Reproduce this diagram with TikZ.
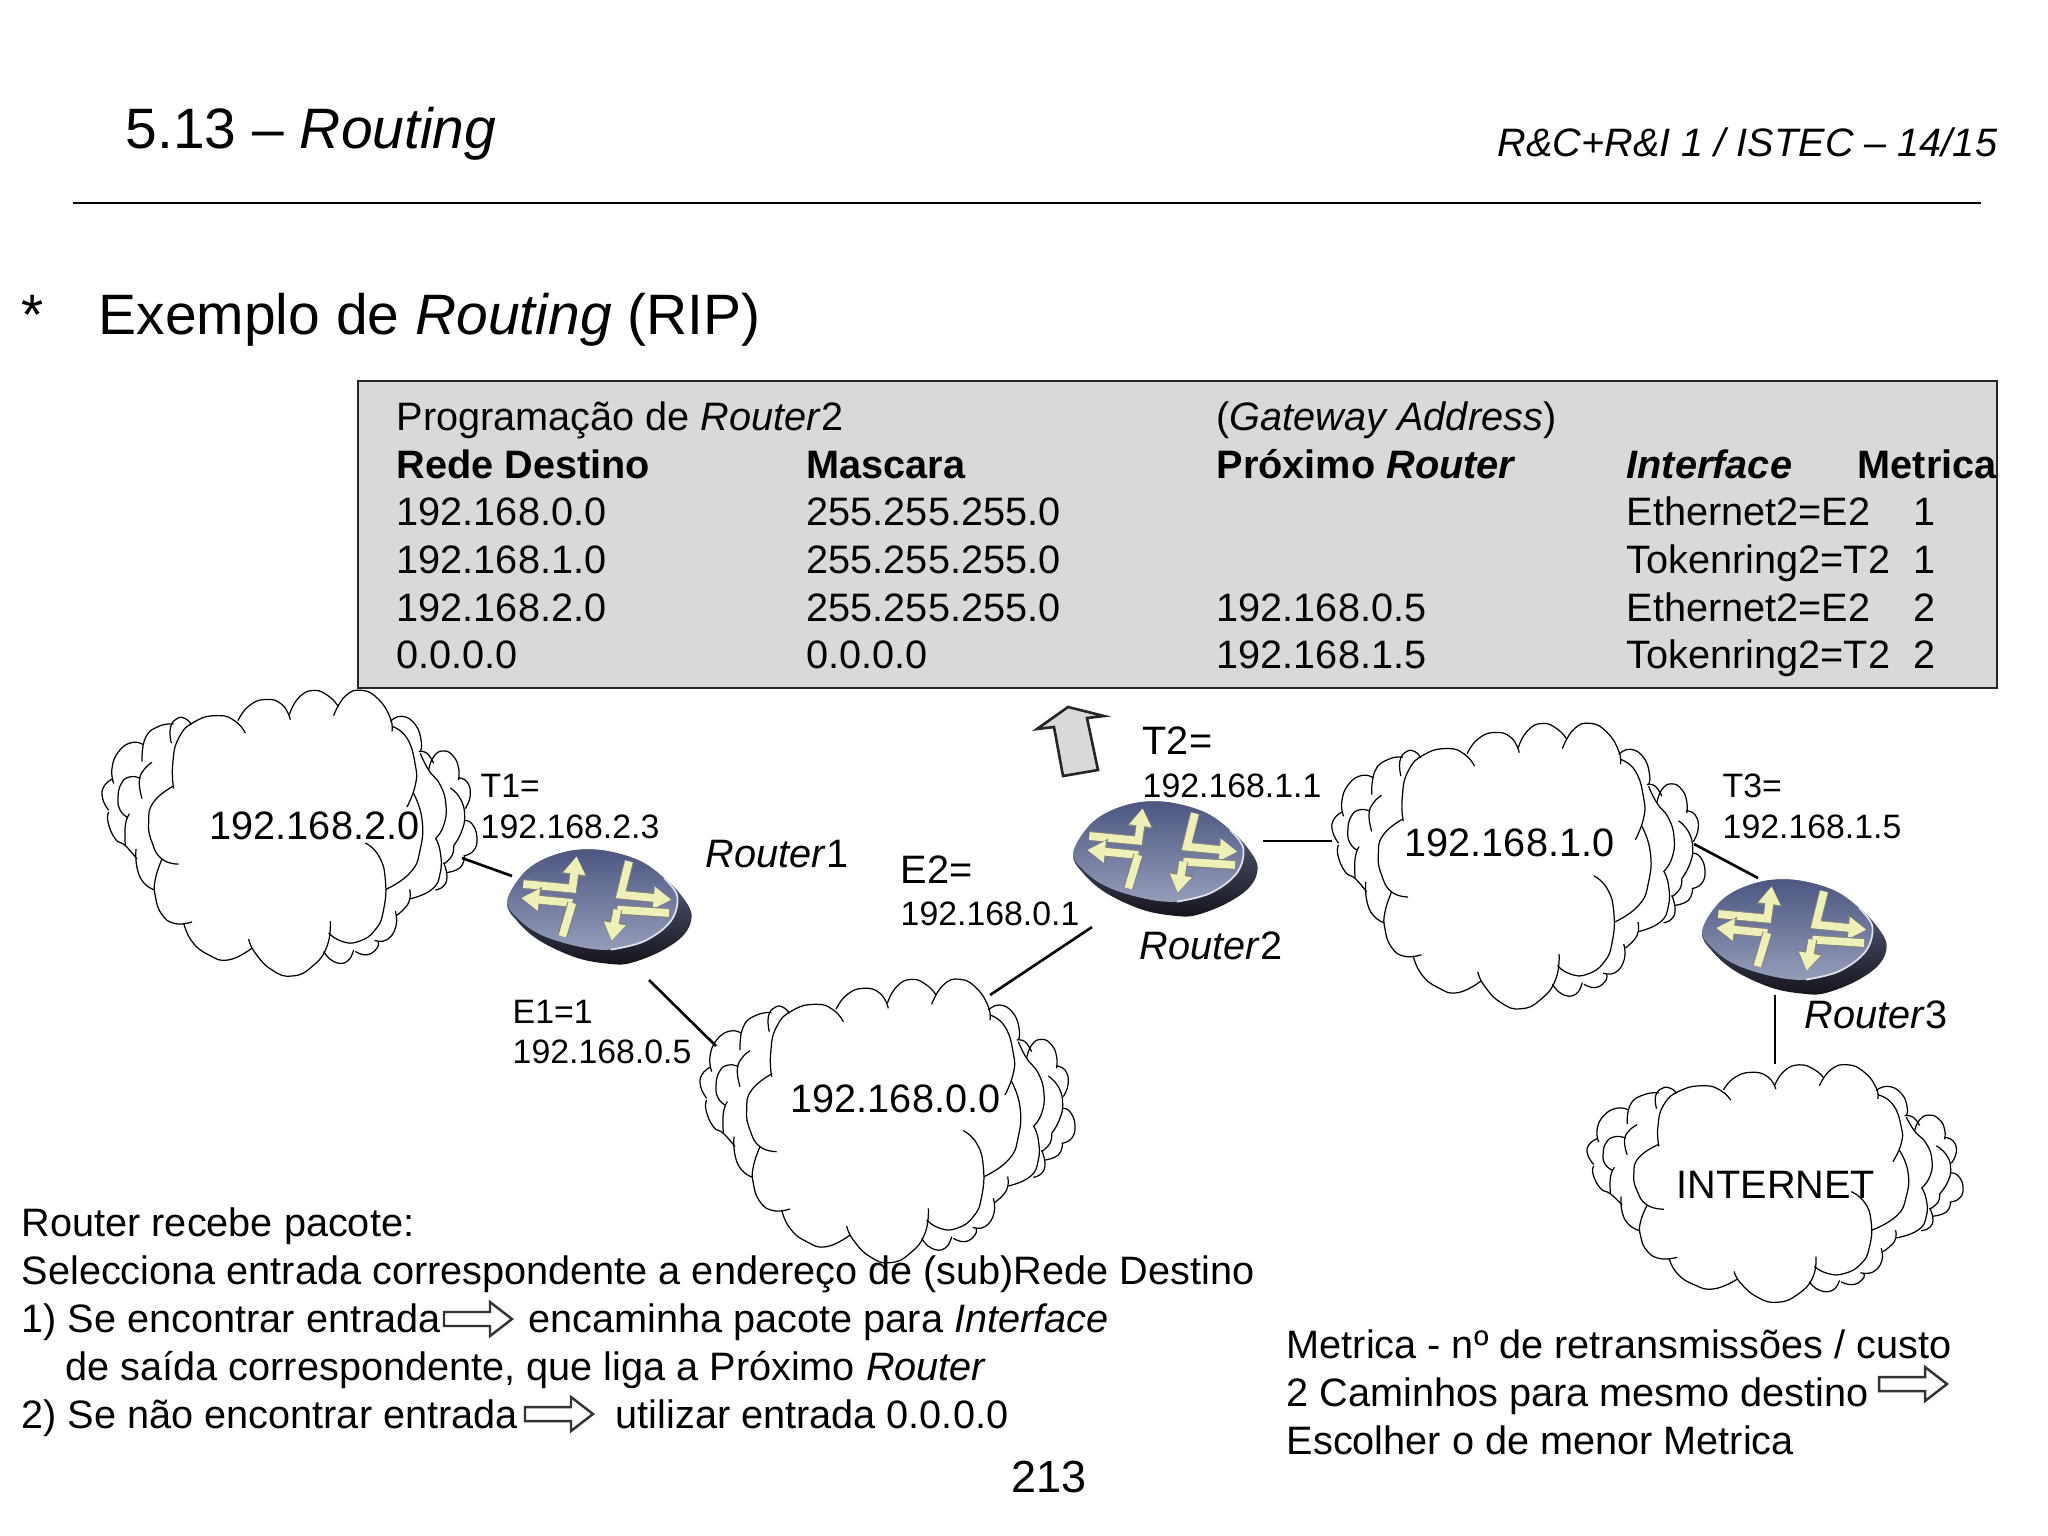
\documentclass[tikz,border=0pt]{standalone}
\usepackage{fontspec}
\setmainfont{Liberation Sans}
\usetikzlibrary{arrows.meta}
\newcommand\carc[1]{\draw[cloudline] plot[smooth,tension=.85] coordinates {#1};}
\newcommand\rarrow[1]{\draw[arrowshadow] #1;\draw[arrowlight] #1;}
\tikzset{
  cloudline/.style={draw=black,line width=.35pt},
  conn/.style={draw=black,line width=.75pt},
  arrowshadow/.style={draw=black!50,line width=2.8pt,-{Triangle[width=7pt,length=5.5pt]}},
  arrowlight/.style={draw=routeryellow,line width=2.2pt,-{Triangle[width=6pt,length=5pt]}},
  tx/.style={anchor=base west,inner sep=0pt,font=\fontsize{11.28}{13}\selectfont},
  sm/.style={anchor=base west,inner sep=0pt,font=\fontsize{9.62}{11}\selectfont},
  bigt/.style={anchor=base west,inner sep=0pt,font=\fontsize{16.2}{19}\selectfont},
  cloudpic/.pic={
    \carc{(275,320)(272,250)(290,170)(340,120)(410,103)(460,120)(490,155)}
    \carc{(468,118)(500,75)(550,55)(600,70)(625,115)}
    \carc{(622,100)(650,50)(695,28)(740,45)(768,75)}
    \carc{(755,103)(790,45)(840,28)(890,55)(925,110)(930,150)}
    \carc{(930,135)(975,170)(1000,250)(1000,310)(975,375)}
    \carc{(995,335)(1020,410)(1015,500)(985,570)(912,620)}
    \carc{(850,482)(890,520)(910,590)(905,680)(880,740)(830,775)(780,775)(740,750)}
    \carc{(745,715)(735,790)(690,850)(630,878)(570,860)(520,810)(500,768)}
    \carc{(510,795)(440,830)(380,815)(330,775)(305,720)}
    \carc{(330,717)(280,722)(240,695)(220,640)(220,590)(240,530)}
    \carc{(290,545)(240,530)(210,480)(200,420)(215,360)(275,312)}
    \carc{(218,622)(185,600)(165,555)(162,500)}
    \carc{(165,530)(130,490)(100,470)(78,420)(80,390)}
    \carc{(80,385)(62,350)(65,315)(90,292)}
    \carc{(95,305)(90,260)(110,210)(150,183)(185,190)}
    \carc{(180,240)(190,170)(230,135)(275,128)}
    \carc{(268,185)(265,140)(285,112)(310,112)(328,130)}
    \carc{(210,242)(185,265)(172,300)(180,350)}
    \carc{(175,290)(145,285)(118,305)(108,350)(115,385)(135,405)}
    \carc{(142,395)(130,430)(130,490)}
    \carc{(925,120)(960,105)(1000,130)(1018,180)(1015,210)}
    \carc{(1010,210)(1035,215)(1055,245)}
    \carc{(1040,265)(1055,225)(1085,208)(1115,225)(1130,260)(1130,295)}
    \carc{(1128,288)(1155,300)(1165,340)(1150,380)}
    \carc{(1105,318)(1135,350)(1148,400)(1138,450)(1115,490)}
    \carc{(1015,215)(1040,265)(1075,310)(1092,370)(1085,430)(1060,470)}
    \carc{(1148,415)(1170,425)(1185,465)(1175,505)(1145,520)}
    \carc{(1148,520)(1135,555)(1095,570)}
    \carc{(1062,470)(1075,510)(1075,570)(1050,620)(985,648)}
    \carc{(1085,540)(1095,580)(1085,610)(1060,622)}
    \carc{(1115,490)(1110,520)(1085,545)}
    \carc{(983,620)(980,660)(945,697)}
    \carc{(940,685)(942,730)(915,770)(878,772)}
    \carc{(888,775)(885,795)(855,815)(820,805)}
    \carc{(815,800)(795,835)(755,835)(725,805)}
  },
  routerpic/.pic={
    \path[top color=routerdark,bottom color=routerblack] plot[smooth cycle,tension=.6] coordinates {(130,490)(190,395)(290,345)(400,335)(520,365)(600,420)(650,470)(683,530)(660,590)(590,640)(500,675)(440,678)(340,660)(230,610)(160,550)};
    \path[top color=routertop,bottom color=routerbot] plot[smooth cycle,tension=.6] coordinates {(130,485)(190,395)(290,345)(400,335)(520,365)(600,420)(640,475)(620,550)(540,610)(440,635)(340,625)(230,590)(160,540)};
    \path[draw=white!70!routerbot,line width=.5pt] plot[smooth,tension=.6] coordinates {(600,420)(640,475)(620,550)(540,610)(440,635)};
    \rarrow{(178,438)--(325,452)--(338,355)}
    \rarrow{(325,495)--(172,480)}
    \draw[arrowshadow,-] (325,495)--(295,595);
    \draw[arrowlight,-] (325,495)--(295,595);
    \rarrow{(495,370)--(470,470)--(622,485)}
    \draw[arrowshadow,-] (615,525)--(460,515);
    \draw[arrowlight,-] (615,525)--(460,515);
    \rarrow{(460,515)--(443,608)}
  },
  blockpic/.pic={
    \draw[fill=white,draw=black!80,line width=.7pt] (0,-7)--(46,-7)--(46,-17)--(68,0)--(46,17)--(46,7)--(0,7)--cycle;
  }
}
\definecolor{routerdark}{HTML}{667090}
\definecolor{routerblack}{HTML}{14141C}
\definecolor{routertop}{HTML}{4C5680}
\definecolor{routerbot}{HTML}{959DBA}
\definecolor{routeryellow}{HTML}{EFEFB8}
\definecolor{panelgray}{HTML}{D9D9D9}
\begin{document}
\begin{tikzpicture}[x=0.01cm,y=-0.01cm]
\useasboundingbox (0,0) rectangle (2048,1536);
% header
\node[bigt] (title) at (125,148) {5.13 – \textit{Routing}};
\node[tx] (course) at (1497,156) {\textit{R\&C+R\&I 1 / ISTEC – 14/15}};
\coordinate (ruleL) at (73,203);
\coordinate (ruleR) at (1981,203);
\draw[line width=.7pt] (ruleL)--(ruleR);
\node[bigt] (star) at (21,334) {*};
\node[bigt] (subtitle) at (98,334) {Exemplo de \textit{Routing} (RIP)};
% clouds
\pic[xscale=.3333,yscale=.336] at (82,681) {cloudpic};
\pic[xscale=.3333,yscale=.3333] at (680,970) {cloudpic};
\pic[xscale=.3316,yscale=.3357] at (1312,714) {cloudpic};
\pic[xscale=.3342,yscale=.2793] at (1567,1057) {cloudpic};
% panel
\draw[fill=panelgray,draw=black!85,line width=.8pt] (358,381) rectangle (1997,688);
\node[tx] (h1) at (396,430) {Programação de \textit{Router}2};
\node[tx] (h2) at (1216,430) {(\textit{Gateway Address})};
\node[tx] (c1) at (396,478) {\textbf{Rede Destino}};
\node[tx] (c2) at (806,478) {\textbf{Mascara}};
\node[tx] (c3) at (1216,478) {\textbf{Próximo \textit{Router}}};
\node[tx] (c4) at (1626,478) {\textbf{\textit{Interface}}};
\node[tx] (c5) at (1857,478) {\textbf{Metrica}};
\node[tx] (a1) at (396,525) {192.168.0.0};
\node[tx] (a2) at (806,525) {255.255.255.0};
\node[tx] (a4) at (1626,525) {Ethernet2=E2};
\node[tx] (a5) at (1913,525) {1};
\node[tx] (b1) at (396,573) {192.168.1.0};
\node[tx] (b2) at (806,573) {255.255.255.0};
\node[tx] (b4) at (1626,573) {Tokenring2=T2};
\node[tx] (b5) at (1913,573) {1};
\node[tx] (d1) at (396,621) {192.168.2.0};
\node[tx] (d2) at (806,621) {255.255.255.0};
\node[tx] (d3) at (1216,621) {192.168.0.5};
\node[tx] (d4) at (1626,621) {Ethernet2=E2};
\node[tx] (d5) at (1913,621) {2};
\node[tx] (e1) at (396,668) {0.0.0.0};
\node[tx] (e2) at (806,668) {0.0.0.0};
\node[tx] (e3) at (1216,668) {192.168.1.5};
\node[tx] (e4) at (1626,668) {Tokenring2=T2};
\node[tx] (e5) at (1913,668) {2};
% upward arrow
\draw[fill=panelgray,draw=black!85,line width=.75pt] (1068,707)--(1104,716)--(1087,718)--(1098,770)--(1063,776)--(1054,727)--(1037,729)--cycle;
% routers
\pic[xscale=.3333,yscale=.3333] at (464,738) {routerpic};
\pic[xscale=.3333,yscale=.3333] at (1030,690) {routerpic};
\pic[xscale=.3333,yscale=.3333] at (1659,768) {routerpic};
% connectors
\coordinate (cA1) at (462,858); \coordinate (rA1) at (512,876);
\coordinate (rA2) at (649,980); \coordinate (cB1) at (716,1046);
\coordinate (cB2) at (990,995); \coordinate (rB1) at (1092,927);
\coordinate (rB2) at (1263,841); \coordinate (cC1) at (1332,841);
\coordinate (cC2) at (1694,844); \coordinate (rC1) at (1758,878);
\coordinate (rC2) at (1775,995); \coordinate (cD1) at (1775,1064);
\draw[conn] (cA1)--(rA1);
\draw[conn] (rA2)--(cB1);
\draw[conn] (cB2)--(rB1);
\draw[conn] (rB2)--(cC1);
\draw[conn] (cC2)--(rC1);
\draw[conn] (rC2)--(cD1);
% labels
\node[tx] (n2) at (209,839) {192.168.2.0};
\node[sm] (t1a) at (480,797) {T1=};
\node[sm] (t1b) at (480,838) {192.168.2.3};
\node[tx] (r1) at (705,867) {\textit{Router}1};
\node[tx] (e2a) at (900,883) {E2=};
\node[sm] (e2b) at (900,925) {192.168.0.1};
\node[tx] (t2a) at (1142,754) {T2=};
\node[sm] (t2b) at (1142,797) {192.168.1.1};
\node[tx] (r2) at (1139,959) {\textit{Router}2};
\node[tx] (n1) at (1404,856) {192.168.1.0};
\node[sm] (t3a) at (1722,797) {T3=};
\node[sm] (t3b) at (1722,838) {192.168.1.5};
\node[tx] (r3) at (1804,1028) {\textit{Router}3};
\node[sm] (e1a) at (512,1023) {E1=1};
\node[sm] (e1b) at (512,1063) {192.168.0.5};
\node[tx] (n0) at (790,1112) {192.168.0.0};
\node[tx] (inet) at (1676,1198) {INTERNET};
% bottom text
\node[tx] (l1) at (21,1236) {Router recebe pacote:};
\node[tx] (l2) at (21,1284) {Selecciona entrada correspondente a endereço de (sub)Rede Destino};
\node[tx] (l3) at (21,1332) {1) Se encontrar entrada};
\node[tx] (l3b) at (528,1332) {encaminha pacote para \textit{Interface}};
\node[tx] (l4) at (65,1380) {de saída correspondente, que liga a Próximo \textit{Router}};
\node[tx] (l5) at (21,1428) {2) Se não encontrar entrada};
\node[tx] (l5b) at (615,1428) {utilizar entrada 0.0.0.0};
\pic at (444,1319) {blockpic};
\pic at (525,1414) {blockpic};
\pic at (1879,1384) {blockpic};
\node[tx] (m1) at (1286,1358) {Metrica - nº de retransmissões / custo};
\node[tx] (m2) at (1286,1406) {2 Caminhos para mesmo destino};
\node[tx] (m3) at (1286,1454) {Escolher o de menor Metrica};
\node[anchor=base west,inner sep=0pt,font=\fontsize{12.8}{15}\selectfont] (page) at (1011,1492) {213};
\end{tikzpicture}
\end{document}
